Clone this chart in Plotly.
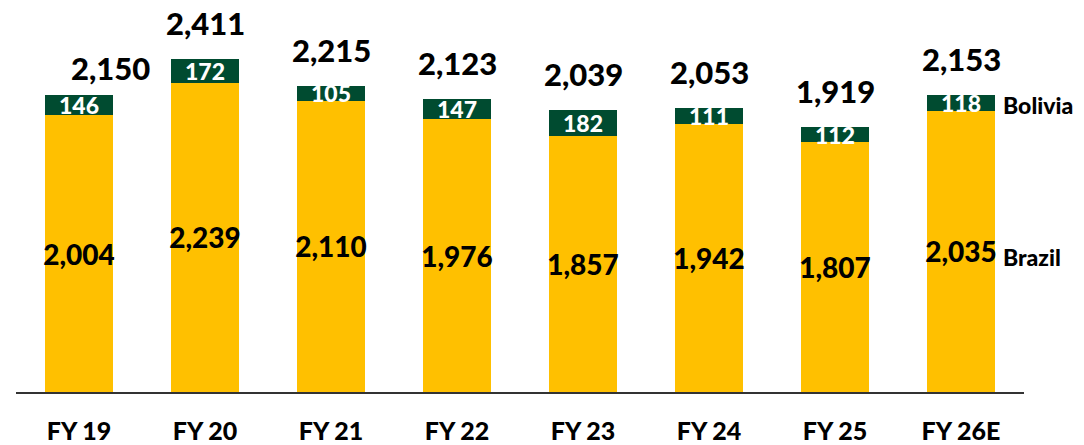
import plotly.graph_objects as go

categories = ["FY 19", "FY 20", "FY 21", "FY 22", "FY 23", "FY 24", "FY 25", "FY 26E"]
brazil = [2004, 2239, 2110, 1976, 1857, 1942, 1807, 2035]
bolivia = [146, 172, 105, 147, 182, 111, 112, 118]
totals = [2150, 2411, 2215, 2123, 2039, 2053, 1919, 2153]

GOLD = "#FFC000"
GREEN = "#004B30"
FONT = "Lato"
W = 900

fig = go.Figure()
fig.add_trace(go.Bar(
    x=categories, y=brazil, name="Brazil", marker=dict(color=GOLD, line=dict(width=0)),
    text=[f"{v:,}" for v in brazil], textposition="inside", insidetextanchor="middle",
    constraintext="none", textangle=0,
    textfont=dict(family=FONT, size=28, color="black", weight=W),
    hoverinfo="skip",
))
fig.add_trace(go.Bar(
    x=categories, y=bolivia, name="Bolivia", marker=dict(color=GREEN, line=dict(width=0)),
    text=[f"{v:,}" for v in bolivia], textposition="inside", insidetextanchor="middle",
    constraintext="none", textangle=0,
    textfont=dict(family=FONT, size=23, color="white", weight=W),
    hoverinfo="skip",
))

annotations = []
for i, (c, t) in enumerate(zip(categories, totals)):
    annotations.append(dict(
        x=c, y=t, xref="x", yref="y", text=f"{t:,}", showarrow=False,
        xanchor="center", yanchor="middle",
        xshift=31 if i == 0 else 0, yshift=27 if i == 0 else 36,
        font=dict(family=FONT, size=31, color="black", weight=W),
    ))
last = len(categories) - 1
annotations.append(dict(
    x=categories[last], y=brazil[last] + bolivia[last] / 2, xref="x", yref="y",
    text="Bolivia", showarrow=False, xanchor="left", yanchor="middle", xshift=40, yshift=-2,
    font=dict(family=FONT, size=23, color="black", weight=W),
))
annotations.append(dict(
    x=categories[last], y=brazil[last] / 2, xref="x", yref="y",
    text="Brazil", showarrow=False, xanchor="left", yanchor="middle", xshift=40, yshift=-6,
    font=dict(family=FONT, size=23, color="black", weight=W),
))

fig.update_layout(
    barmode="stack",
    bargap=0.455,
    width=1076, height=437,
    margin=dict(l=8, r=60, t=2, b=53, autoexpand=False),
    paper_bgcolor="white", plot_bgcolor="white",
    showlegend=False,
    annotations=annotations,
    font=dict(family=FONT),
)
fig.update_xaxes(
    showline=True, linecolor="#333333", linewidth=2, showgrid=False,
    ticks="", ticklabelstandoff=16, automargin=False,
    tickfont=dict(family=FONT, size=25, color="black", weight=W),
    range=[-0.5, 7.5], fixedrange=True,
)
fig.update_yaxes(visible=False, range=[0, 2766], showgrid=False, fixedrange=True, automargin=False)

fig.write_html("out.html", config={"displayModeBar": False})
